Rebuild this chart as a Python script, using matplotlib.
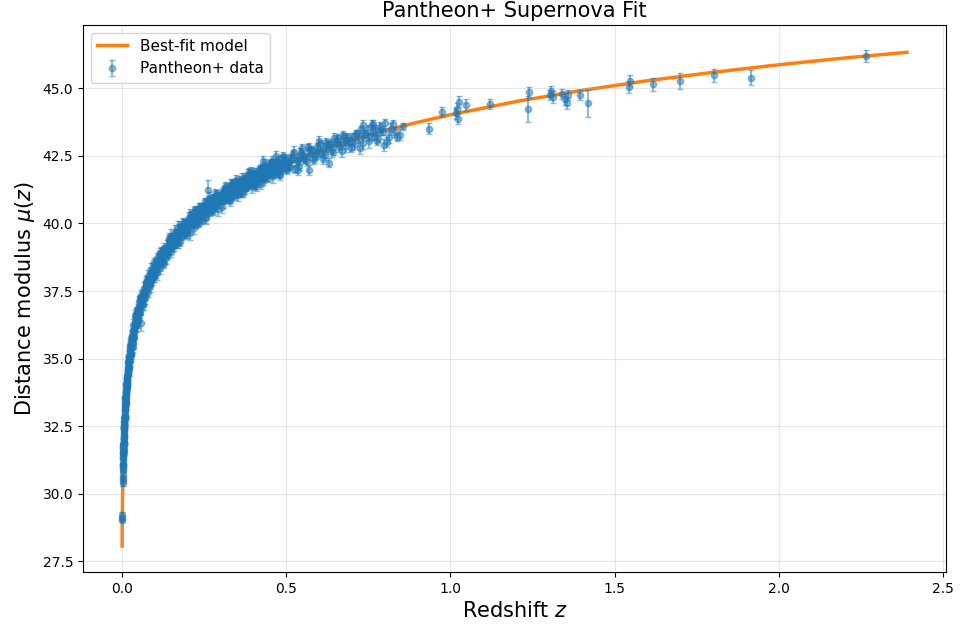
import numpy as np
import matplotlib
matplotlib.use('Agg')
import matplotlib.pyplot as plt

# best-fit curve
z_model = [0.001, 0.0015, 0.002, 0.003, 0.004, 0.005, 0.007, 0.01, 0.015, 0.02, 0.03, 0.04,
           0.05, 0.06, 0.07, 0.08, 0.1, 0.12, 0.14, 0.16, 0.18, 0.2, 0.22, 0.25, 0.28, 0.3,
           0.35, 0.4, 0.45, 0.5, 0.55, 0.6, 0.65, 0.7, 0.75, 0.8, 0.9, 1.0, 1.2, 1.4, 1.6,
           1.8, 2.0, 2.2, 2.39]
mu_model = [28.07, 28.95, 29.57, 30.46, 31.08, 31.57, 32.30, 33.09, 33.97, 34.61, 35.50, 36.14,
            36.65, 37.06, 37.40, 37.71, 38.22, 38.65, 39.01, 39.33, 39.61, 39.87, 40.10, 40.42,
            40.70, 40.87, 41.25, 41.61, 41.91, 42.18, 42.43, 42.67, 42.88, 43.07, 43.26, 43.43,
            43.74, 44.02, 44.51, 44.92, 45.28, 45.59, 45.87, 46.12, 46.33]

# supernova data in pieces along the curve
z_vlow = [0.0015, 0.0016, 0.0017, 0.0026, 0.0028, 0.0029, 0.0031, 0.0033, 0.0035, 0.0036, 0.0038]
mu_vlow = [29.12, 29.05, 29.20, 30.40, 30.58, 30.70, 30.88, 31.00, 30.52, 31.10, 30.95]
err_vlow = [0.10, 0.08, 0.12, 0.10, 0.12, 0.10, 0.11, 0.10, 0.12, 0.15, 0.10]

z_low1 = [0.00404, 0.00418, 0.00433, 0.00448, 0.00463, 0.0048, 0.00496, 0.00514, 0.00532,
          0.0055, 0.00569, 0.00589, 0.0061, 0.00631, 0.00653, 0.00676, 0.007, 0.00724, 0.0075,
          0.00776, 0.00803, 0.00831, 0.0086, 0.0089, 0.00921, 0.00953, 0.00987]
mu_low1 = [31.32, 31.07, 31.40, 31.71, 31.41, 31.28, 31.82, 31.74, 31.66, 32.10, 31.90, 32.11,
           31.85, 32.31, 32.55, 32.15, 32.38, 32.67, 32.44, 32.69, 32.42, 32.80, 33.02, 32.86,
           33.24, 32.88, 33.24]
err_low1 = [0.25, 0.22, 0.28, 0.20, 0.24, 0.30, 0.22, 0.26, 0.21, 0.25, 0.27, 0.20, 0.23, 0.29,
            0.22, 0.24, 0.26, 0.21, 0.25, 0.28, 0.22, 0.24, 0.20, 0.27, 0.23, 0.25, 0.22]

z_low5 = [0.00425, 0.0044, 0.00455, 0.0047, 0.0049, 0.00505, 0.00523, 0.0054, 0.0056, 0.0058,
          0.006, 0.0062, 0.0064, 0.0066, 0.0069, 0.0071, 0.0074, 0.0076, 0.0079, 0.0082,
          0.0085, 0.0088, 0.0091, 0.0094, 0.0097]
mu_low5 = [31.07, 31.52, 31.09, 31.53, 31.83, 31.54, 31.84, 31.51, 31.86, 32.16, 31.85, 32.39,
           31.92, 32.25, 32.48, 32.03, 32.56, 32.46, 32.85, 32.49, 32.83, 33.13, 32.79, 33.13,
           32.76]
err_low5 = [0.26, 0.21, 0.29, 0.23, 0.19, 0.27, 0.24, 0.30, 0.22, 0.25,
            0.28, 0.20, 0.24, 0.29, 0.21, 0.26, 0.23, 0.28, 0.20, 0.25,
            0.27, 0.22, 0.24, 0.29, 0.21]

z_low2 = [0.0102, 0.0106, 0.011, 0.0113, 0.0117, 0.0121, 0.0126, 0.013, 0.0135, 0.0139, 0.0144,
          0.0149, 0.0154, 0.016, 0.0165, 0.0171, 0.0177, 0.0183, 0.019, 0.0196, 0.0203, 0.021,
          0.0218, 0.0225, 0.0233, 0.0241, 0.025, 0.0258, 0.0267, 0.0277, 0.0286, 0.0296, 0.0307,
          0.0318, 0.0329, 0.034, 0.0352, 0.0364, 0.0377, 0.039, 0.0404, 0.0418, 0.0433, 0.0448,
          0.0463, 0.048, 0.0496, 0.0514, 0.0532, 0.055, 0.0569, 0.0589, 0.061, 0.0631, 0.0653,
          0.0676, 0.07, 0.0724, 0.075, 0.0776, 0.0803, 0.0831, 0.086, 0.089, 0.0921, 0.0953,
          0.0987]
mu_low2 = [32.89, 33.36, 33.53, 33.56, 33.31, 33.64, 33.96, 33.66, 33.53, 34.07, 34.00, 33.91,
           34.35, 34.17, 34.36, 34.10, 34.57, 34.81, 34.42, 34.63, 34.93, 34.70, 34.96, 34.69,
           35.07, 35.29, 35.13, 35.51, 35.15, 35.52, 35.16, 35.63, 35.80, 35.84, 35.59, 35.92,
           36.23, 35.94, 35.80, 36.35, 36.28, 36.19, 36.64, 36.45, 36.65, 36.39, 36.86, 37.11,
           36.70, 36.93, 37.23, 36.99, 37.25, 36.99, 37.37, 37.60, 37.44, 37.82, 37.46, 37.83,
           37.48, 37.94, 38.11, 38.16, 37.91, 38.25, 38.56]
err_low2 = [0.22, 0.18, 0.25, 0.20, 0.16, 0.23, 0.19, 0.27, 0.17, 0.21,
            0.24, 0.18, 0.20, 0.26, 0.16, 0.22, 0.19, 0.25, 0.17, 0.21,
            0.23, 0.18, 0.20, 0.24, 0.16, 0.22, 0.19, 0.26, 0.17, 0.21,
            0.18, 0.23, 0.20, 0.16, 0.25, 0.19, 0.22, 0.17, 0.24, 0.18,
            0.21, 0.16, 0.23, 0.19, 0.20, 0.25, 0.17, 0.22, 0.18, 0.21,
            0.16, 0.24, 0.19, 0.20, 0.17, 0.23, 0.18, 0.22, 0.16, 0.21,
            0.19, 0.25, 0.17, 0.20, 0.18, 0.22, 0.16]

z_low3 = [0.0104, 0.0108, 0.0115, 0.0123, 0.0132, 0.0142, 0.0152, 0.0163, 0.0174, 0.0187,
          0.0200, 0.0214, 0.0229, 0.0245, 0.0262, 0.0281, 0.0301, 0.0323, 0.0346, 0.0370,
          0.0397, 0.0425, 0.0455, 0.0488, 0.0523, 0.0560, 0.0600, 0.0642, 0.0688, 0.0737,
          0.0790, 0.0845, 0.0905, 0.0970]
mu_low3 = [33.10, 33.42, 33.70, 33.36, 33.82, 34.07, 34.02, 34.03, 34.68, 34.43, 34.88, 34.84,
           35.10, 34.91, 35.35, 35.69, 35.42, 35.76, 36.06, 35.77, 36.31, 36.64, 36.42, 36.70,
           36.64, 37.18, 37.10, 37.42, 37.20, 37.68, 38.07, 37.80, 38.11, 38.03]
err_low3 = [0.19, 0.23, 0.17, 0.21, 0.25, 0.18, 0.20, 0.16, 0.24, 0.19,
            0.22, 0.17, 0.21, 0.18, 0.23, 0.16, 0.20, 0.25, 0.19, 0.17,
            0.22, 0.18, 0.24, 0.16, 0.21, 0.19, 0.23, 0.17, 0.20, 0.18,
            0.22, 0.16, 0.19, 0.21]

z_low4 = [0.0111, 0.0119, 0.0128, 0.0137, 0.0147, 0.0157, 0.0168, 0.0180, 0.0193, 0.0206,
          0.0221, 0.0237, 0.0254, 0.0272, 0.0291, 0.0312, 0.0334, 0.0358, 0.0383, 0.0411,
          0.0440, 0.0471, 0.0505, 0.0541, 0.0579, 0.0620, 0.0664, 0.0711, 0.0762, 0.0816,
          0.0874, 0.0936]
mu_low4 = [33.59, 33.39, 33.78, 33.52, 34.26, 34.12, 34.05, 34.60, 34.51, 35.05, 34.62, 35.09,
           35.43, 35.16, 35.50, 35.83, 35.44, 36.07, 36.05, 36.56, 36.25, 36.71, 36.43, 36.92,
           37.29, 37.09, 37.43, 37.26, 37.87, 37.79, 37.77, 38.29]
err_low4 = [0.24, 0.19, 0.27, 0.21, 0.18, 0.25, 0.22, 0.28, 0.20, 0.23,
            0.26, 0.19, 0.22, 0.27, 0.18, 0.24, 0.21, 0.26, 0.19, 0.23,
            0.25, 0.20, 0.22, 0.27, 0.18, 0.24, 0.21, 0.25, 0.19, 0.23,
            0.20, 0.26]

z_mid1 = [0.100, 0.105, 0.110, 0.115, 0.120, 0.125, 0.130, 0.135, 0.140, 0.145, 0.150, 0.155,
          0.160, 0.165, 0.170, 0.175, 0.180, 0.185, 0.190, 0.195, 0.200, 0.205, 0.210, 0.215,
          0.220, 0.225, 0.230, 0.235, 0.240, 0.245, 0.250, 0.255, 0.260, 0.265, 0.270, 0.275,
          0.280, 0.285, 0.290, 0.295, 0.300]
mu_mid1 = [38.43, 38.21, 38.58, 38.91, 38.65, 38.53, 39.09, 39.03, 38.96, 39.41, 39.22, 39.43,
           39.17, 39.63, 39.87, 39.46, 39.68, 39.96, 39.72, 39.96, 39.68, 40.04, 40.25, 40.06,
           40.43, 40.04, 40.39, 40.01, 40.45, 40.59, 40.42, 40.75, 40.44, 40.65, 40.94, 40.50,
           40.89, 40.79, 41.02, 40.79, 40.99]
err_mid1 = [0.17, 0.21, 0.15, 0.19, 0.23, 0.16, 0.18, 0.14, 0.22, 0.17,
            0.20, 0.15, 0.19, 0.16, 0.21, 0.14, 0.18, 0.23, 0.17, 0.15,
            0.20, 0.16, 0.22, 0.14, 0.19, 0.17, 0.21, 0.15, 0.18, 0.16,
            0.20, 0.14, 0.17, 0.19, 0.22, 0.15, 0.18, 0.16, 0.21, 0.17, 0.19]

z_mid2 = [0.1025, 0.1075, 0.1125, 0.1175, 0.1225, 0.1275, 0.1325, 0.1375, 0.1425, 0.1475,
          0.1525, 0.1575, 0.1625, 0.1675, 0.1725, 0.1775, 0.1825, 0.1875, 0.1925, 0.1975,
          0.2025, 0.2075, 0.2125, 0.2175, 0.2225, 0.2275, 0.2325, 0.2375, 0.2425, 0.2475,
          0.2525, 0.2575, 0.2625, 0.2675, 0.2725, 0.2775, 0.2825, 0.2875, 0.2925, 0.2975]
mu_mid2 = [38.21, 38.56, 38.80, 38.42, 38.83, 39.01, 38.90, 38.84, 39.43, 39.10, 39.48, 39.37,
           39.56, 39.29, 39.66, 39.91, 39.55, 39.80, 40.01, 39.63, 40.07, 40.31, 40.00, 40.17,
           40.01, 40.45, 40.27, 40.49, 40.16, 40.54, 40.82, 40.44, 40.65, 40.45, 40.85, 40.68,
           41.03, 40.68, 40.94, 40.91]
err_mid2 = [0.18, 0.15, 0.20, 0.16, 0.22, 0.14, 0.19, 0.17, 0.21, 0.15,
            0.18, 0.23, 0.16, 0.20, 0.14, 0.19, 0.17, 0.22, 0.15, 0.18,
            0.16, 0.21, 0.14, 0.20, 0.17, 0.19, 0.15, 0.23, 0.16, 0.18,
            0.14, 0.21, 0.17, 0.19, 0.15, 0.20, 0.16, 0.22, 0.18, 0.15]

z_mid3 = [0.305, 0.310, 0.315, 0.320, 0.325, 0.330, 0.335, 0.340, 0.345, 0.350, 0.355, 0.360,
          0.365, 0.370, 0.375, 0.380, 0.385, 0.390, 0.395, 0.400, 0.405, 0.410, 0.415, 0.420,
          0.425, 0.430, 0.435, 0.440, 0.445, 0.450, 0.455, 0.460, 0.465, 0.470, 0.475, 0.480,
          0.485, 0.490, 0.495, 0.500]
mu_mid3 = [41.03, 40.91, 41.22, 41.07, 41.25, 40.95, 41.48, 41.27, 41.14, 41.54, 41.29, 41.55,
           41.50, 41.14, 41.61, 41.35, 41.83, 41.55, 41.83, 41.71, 41.44, 41.81, 41.66, 42.00,
           41.81, 41.69, 42.20, 42.06, 41.70, 42.07, 41.97, 42.26, 41.92, 42.11, 42.28, 41.84,
           42.08, 42.48, 42.27, 42.04]
err_mid3 = [0.16, 0.20, 0.14, 0.18, 0.22, 0.15, 0.17, 0.13, 0.21, 0.16,
            0.19, 0.14, 0.18, 0.15, 0.20, 0.13, 0.17, 0.22, 0.16, 0.14,
            0.19, 0.15, 0.21, 0.13, 0.18, 0.16, 0.20, 0.14, 0.17, 0.15,
            0.19, 0.13, 0.16, 0.18, 0.21, 0.14, 0.17, 0.15, 0.20, 0.16]

z_mid4 = [0.3025, 0.3075, 0.3125, 0.3175, 0.3225, 0.3275, 0.3325, 0.3375, 0.3425, 0.3475,
          0.3525, 0.3575, 0.3625, 0.3675, 0.3725, 0.3775, 0.3825, 0.3875, 0.3925, 0.3975,
          0.4025, 0.4075, 0.4125, 0.4175, 0.4225, 0.4275, 0.4325, 0.4375, 0.4425, 0.4475,
          0.4525, 0.4575, 0.4625, 0.4675, 0.4725, 0.4775, 0.4825, 0.4875, 0.4925, 0.4975]
mu_mid4 = [40.95, 41.06, 40.89, 41.31, 41.04, 41.30, 40.99, 41.27, 41.15, 41.61, 41.42, 41.13,
           41.54, 41.41, 41.68, 41.33, 41.58, 41.50, 41.90, 41.76, 41.41, 41.88, 41.76, 41.61,
           42.06, 41.91, 41.64, 42.01, 41.93, 42.15, 41.88, 42.31, 41.83, 42.01, 42.23, 42.17,
           41.89, 42.41, 42.29, 42.08]
err_mid4 = [0.15, 0.19, 0.14, 0.21, 0.16, 0.18, 0.13, 0.20, 0.15, 0.17,
            0.22, 0.14, 0.19, 0.16, 0.18, 0.13, 0.21, 0.15, 0.17, 0.20,
            0.14, 0.18, 0.16, 0.19, 0.13, 0.22, 0.15, 0.17, 0.14, 0.20,
            0.16, 0.18, 0.13, 0.19, 0.15, 0.21, 0.17, 0.14, 0.18, 0.16]

z_mid5 = [0.0515, 0.0545, 0.0575, 0.0615, 0.0655, 0.0695, 0.0735, 0.0775, 0.0815, 0.0855,
          0.0895, 0.0935, 0.0975, 0.1035, 0.1085, 0.1135, 0.1185, 0.1235, 0.1285, 0.1335,
          0.1385, 0.1435, 0.1485, 0.1535, 0.1585, 0.1635, 0.1685, 0.1735, 0.1785, 0.1835,
          0.1885, 0.1935, 0.1985, 0.2035, 0.2085, 0.2135, 0.2185, 0.2235, 0.2285, 0.2335,
          0.2385, 0.2435, 0.2485]
mu_mid5 = [36.92, 36.69, 37.29, 37.13, 37.03, 37.54, 37.78, 37.57, 37.86, 37.67,
           38.32, 38.10, 38.04, 38.53, 38.15, 38.60, 38.92, 38.63, 38.98, 38.73,
           39.03, 39.33, 38.94, 39.36, 39.28, 39.70, 39.34, 39.71, 39.32, 39.74,
           39.94, 39.64, 39.86, 40.19, 39.88, 40.16, 39.85, 40.48, 40.25, 40.06,
           40.55, 40.31, 40.57]
err_mid5 = [0.20, 0.17, 0.24, 0.18, 0.22, 0.16, 0.21, 0.25, 0.17, 0.19,
            0.23, 0.16, 0.20, 0.18, 0.24, 0.17, 0.21, 0.19, 0.16, 0.22,
            0.18, 0.25, 0.17, 0.20, 0.16, 0.23, 0.19, 0.21, 0.17, 0.24,
            0.18, 0.20, 0.16, 0.22, 0.19, 0.17, 0.23, 0.18, 0.21, 0.16,
            0.20, 0.24, 0.18]

z_mid6 = [0.2535, 0.2585, 0.2635, 0.2685, 0.2735, 0.2785, 0.2835, 0.2885, 0.2935, 0.2985,
          0.304, 0.309, 0.314, 0.319, 0.324, 0.329, 0.334, 0.339, 0.344, 0.349,
          0.356, 0.363, 0.371, 0.378, 0.386, 0.393, 0.401, 0.408, 0.416, 0.423,
          0.431, 0.438, 0.446, 0.453, 0.461, 0.468, 0.476, 0.483, 0.491, 0.498]
mu_mid6 = [40.21, 40.63, 40.86, 40.52, 40.84, 40.52, 40.77, 41.04, 40.52, 40.96,
           41.12, 40.82, 41.34, 40.99, 41.20, 40.83, 41.21, 41.46, 41.06, 41.27,
           41.53, 41.14, 41.52, 41.40, 41.84, 41.46, 41.80, 41.38, 41.78, 42.00,
           41.64, 41.98, 41.88, 42.23, 41.75, 42.10, 42.24, 41.78, 42.15, 42.40]
err_mid6 = [0.19, 0.22, 0.16, 0.20, 0.24, 0.17, 0.21, 0.18, 0.23, 0.16,
            0.20, 0.25, 0.17, 0.19, 0.22, 0.18, 0.24, 0.16, 0.21, 0.19,
            0.23, 0.17, 0.20, 0.18, 0.22, 0.16, 0.25, 0.19, 0.21, 0.17,
            0.23, 0.18, 0.20, 0.16, 0.24, 0.19, 0.22, 0.17, 0.21, 0.18]

z_mid7 = [0.1012, 0.1082, 0.1152, 0.1222, 0.1292, 0.1362, 0.1432, 0.1502, 0.1572, 0.1642,
          0.1712, 0.1782, 0.1852, 0.1922, 0.1992, 0.2062, 0.2132, 0.2202, 0.2272, 0.2342,
          0.2412, 0.2482, 0.2552, 0.2622, 0.2692, 0.2762, 0.2832, 0.2902, 0.2972, 0.3042,
          0.3112, 0.3182, 0.3252, 0.3322, 0.3392, 0.3462, 0.3532, 0.3602, 0.3672, 0.3742,
          0.3812, 0.3882, 0.3952, 0.4022, 0.4092, 0.4162, 0.4232, 0.4302, 0.4372, 0.4442]
mu_mid7 = [38.30, 38.72, 38.37, 38.83, 38.55, 39.17, 39.06, 39.53, 39.17, 39.58,
           39.27, 39.66, 39.97, 39.72, 40.02, 39.63, 40.27, 40.13, 40.04, 40.59,
           40.24, 40.52, 40.22, 40.74, 40.67, 40.48, 41.03, 40.76, 41.00, 40.62,
           41.20, 41.02, 40.90, 41.44, 41.10, 41.40, 41.04, 41.42, 41.64, 41.29,
           41.52, 41.84, 41.38, 41.75, 41.63, 41.93, 41.46, 41.88, 42.00, 41.78]
err_mid7 = [0.21, 0.17, 0.24, 0.19, 0.16, 0.23, 0.20, 0.26, 0.18, 0.22,
            0.17, 0.25, 0.19, 0.21, 0.16, 0.24, 0.18, 0.22, 0.20, 0.17,
            0.25, 0.19, 0.23, 0.16, 0.21, 0.18, 0.24, 0.20, 0.17, 0.22,
            0.19, 0.26, 0.16, 0.21, 0.18, 0.23, 0.20, 0.17, 0.24, 0.19,
            0.22, 0.16, 0.25, 0.18, 0.21, 0.20, 0.17, 0.23, 0.19, 0.22]

z_far1 = [0.505, 0.511, 0.519, 0.524, 0.532, 0.538, 0.545, 0.551, 0.559, 0.566, 0.572, 0.579,
          0.587, 0.593, 0.601, 0.607, 0.614, 0.622, 0.628, 0.636, 0.643, 0.651, 0.658, 0.666,
          0.673, 0.681, 0.689, 0.697]
mu_far1 = [42.40, 42.10, 42.40, 42.65, 42.32, 42.14, 42.65, 42.53, 42.40, 42.81, 42.56, 42.73,
           42.42, 42.84, 43.05, 42.59, 42.77, 43.02, 42.74, 42.95, 42.64, 42.98, 43.15, 42.94,
           43.28, 42.87, 43.19, 42.79]
err_far1 = [0.14, 0.18, 0.12, 0.20, 0.15, 0.17, 0.13, 0.19, 0.16, 0.14,
            0.21, 0.12, 0.18, 0.15, 0.17, 0.13, 0.20, 0.14, 0.16, 0.19,
            0.12, 0.17, 0.15, 0.18, 0.13, 0.21, 0.14, 0.16]

z_far2 = [0.508, 0.522, 0.535, 0.548, 0.563, 0.576, 0.590, 0.604, 0.618, 0.632, 0.647, 0.662,
          0.677, 0.693]
mu_far2 = [42.13, 42.58, 42.36, 42.78, 42.32, 42.72, 42.57, 42.93, 42.52, 42.93, 43.17, 42.81,
           43.20, 43.06]
err_far2 = [0.16, 0.13, 0.19, 0.15, 0.18, 0.12, 0.20, 0.14, 0.17, 0.13, 0.19, 0.15, 0.16, 0.14]

z_far3 = [0.703, 0.709, 0.716, 0.722, 0.729, 0.735, 0.741, 0.748, 0.754, 0.761, 0.767, 0.774,
          0.781, 0.787, 0.794, 0.800, 0.812, 0.826, 0.839, 0.855]
mu_far3 = [43.22, 42.94, 43.34, 43.16, 43.48, 42.96, 43.32, 43.50, 43.20, 43.63, 43.20, 43.46,
           43.17, 43.57, 43.39, 43.70, 43.18, 43.67, 43.21, 43.60]
err_far3 = [0.13, 0.17, 0.12, 0.18, 0.14, 0.20, 0.13, 0.16, 0.15, 0.19,
            0.12, 0.17, 0.14, 0.18, 0.13, 0.16, 0.22, 0.14, 0.15, 0.13]

z_far4 = [0.503, 0.514, 0.527, 0.541, 0.554, 0.569, 0.583, 0.597, 0.611, 0.625, 0.639, 0.654,
          0.669, 0.684, 0.700, 0.713, 0.726, 0.738, 0.751, 0.764, 0.777, 0.790, 0.806, 0.820,
          0.833, 0.848]
mu_far4 = [42.02, 42.34, 42.01, 42.55, 42.40, 42.76, 42.37, 42.69, 42.37, 42.90, 42.70, 43.10,
           42.68, 43.08, 42.97, 43.30, 42.79, 43.26, 43.06, 43.45, 43.06, 43.50, 43.00, 43.51,
           43.37, 43.28]
err_far4 = [0.18, 0.22, 0.16, 0.24, 0.19, 0.21, 0.17, 0.25, 0.18, 0.20,
            0.23, 0.16, 0.22, 0.19, 0.24, 0.17, 0.21, 0.18, 0.26, 0.20,
            0.17, 0.23, 0.19, 0.22, 0.18, 0.21]

z_hz = [0.060, 0.262, 0.430, 0.468, 0.536, 0.571, 0.632, 0.733, 0.764, 0.797,
        0.936, 0.975, 1.017, 1.020, 1.022, 1.027, 1.047, 1.120, 1.235, 1.239,
        1.302, 1.308, 1.313, 1.340, 1.348, 1.355, 1.359, 1.395, 1.420, 1.545,
        1.548, 1.617, 1.698, 1.803, 1.915, 2.265]
mu_hz = [36.33, 41.25, 42.30, 42.50, 41.98, 41.98, 42.25, 43.64, 43.67, 42.90,
         43.51, 44.13, 44.07, 44.25, 43.88, 44.50, 44.38, 44.42, 44.25, 44.85,
         44.75, 44.90, 44.68, 44.78, 44.60, 44.45, 44.75, 44.75, 44.45, 45.05,
         45.28, 45.14, 45.27, 45.48, 45.39, 46.18]
err_hz = [0.30, 0.35, 0.20, 0.18, 0.18, 0.18, 0.18, 0.18, 0.17, 0.22,
          0.20, 0.18, 0.20, 0.22, 0.20, 0.20, 0.22, 0.18, 0.48, 0.20,
          0.20, 0.20, 0.22, 0.18, 0.20, 0.20, 0.18, 0.18, 0.50, 0.22,
          0.20, 0.23, 0.28, 0.23, 0.27, 0.22]

z_data = np.concatenate([z_vlow, z_low1, z_low5, z_low2, z_low3, z_low4, z_mid1, z_mid2,
                         z_mid3, z_mid4, z_mid5, z_mid6, z_mid7, z_far1, z_far2, z_far3,
                         z_far4, z_hz])
mu_data = np.concatenate([mu_vlow, mu_low1, mu_low5, mu_low2, mu_low3, mu_low4, mu_mid1, mu_mid2,
                          mu_mid3, mu_mid4, mu_mid5, mu_mid6, mu_mid7, mu_far1, mu_far2, mu_far3,
                          mu_far4, mu_hz])
err_data = np.concatenate([err_vlow, err_low1, err_low5, err_low2, err_low3, err_low4, err_mid1,
                           err_mid2, err_mid3, err_mid4, err_mid5, err_mid6, err_mid7, err_far1,
                           err_far2, err_far3, err_far4, err_hz])

fig, ax = plt.subplots(figsize=(9.62, 6.3), dpi=100)
fig.subplots_adjust(left=0.0863, right=0.9834, bottom=0.0921, top=0.9603)

ax.plot(z_model, mu_model, color='C1', lw=2.5, label='Best-fit model', zorder=1)
ax.errorbar(z_data, mu_data, yerr=err_data, fmt='o', ms=4.5, capsize=2.5, alpha=0.5,
            color='C0', label='Pantheon+ data', zorder=2)

ax.set_xlabel('Redshift $z$', fontsize=15)
ax.set_ylabel(r'Distance modulus $\mu(z)$', fontsize=15)
ax.set_title('Pantheon+ Supernova Fit', fontsize=15)
ax.set_xlim(-0.118, 2.509)
ax.set_ylim(27.11, 47.34)
ax.grid(alpha=0.3)
ax.legend(loc='upper left', fontsize=11)

fig.savefig('out.png', dpi=100)
